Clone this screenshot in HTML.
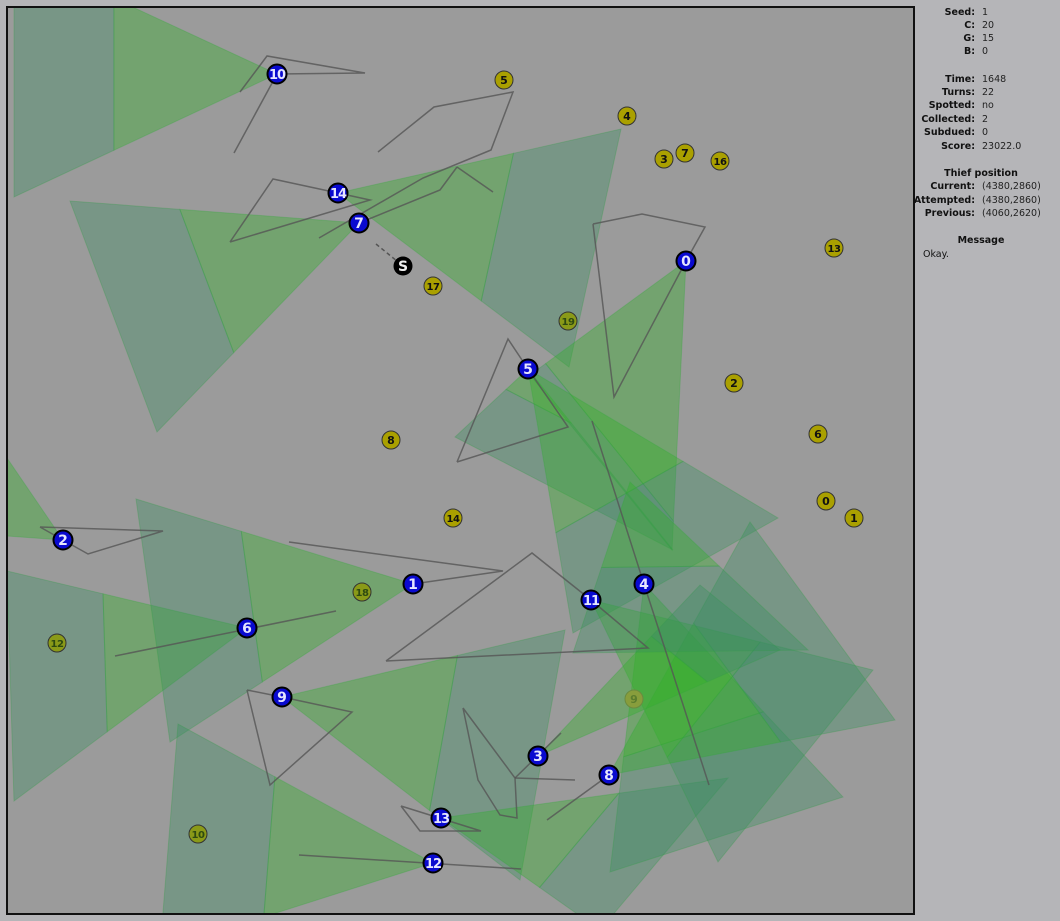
<!DOCTYPE html>
<html><head><meta charset="utf-8"><style>
html,body{margin:0;padding:0;width:1060px;height:921px;overflow:hidden;background:#b5b5b8;font-family:"DejaVu Sans","Liberation Sans",sans-serif}
#panel{position:absolute;left:915px;top:0;width:145px;height:921px;font-size:9.5px;color:#111}
.row{position:absolute;left:0;width:145px;height:13px;line-height:13px}
.row b{position:absolute;right:85px;text-align:right;white-space:nowrap}
.row span{position:absolute;left:67px;white-space:nowrap;color:#222}
.hd{position:absolute;left:0;width:132px;text-align:center;font-weight:bold;line-height:13px}
</style></head><body>
<svg id="map" width="915" height="921" style="position:absolute;left:0;top:0">
<defs><clipPath id="clip"><rect x="7" y="7" width="907" height="907"/></clipPath></defs>
<rect x="7" y="7" width="907" height="907" fill="#9b9b9b"/>
<g id="cones" clip-path="url(#clip)"></g>
<g id="paths" clip-path="url(#clip)"></g>
<g id="coins"></g>
<g id="guards"></g>
<g id="thief"></g>
<rect x="7" y="7" width="907" height="907" fill="none" stroke="#111" stroke-width="2"/>
</svg>
<div id="panel">
<div class="row" style="top:6px"><b>Seed:</b><span>1</span></div>
<div class="row" style="top:19px"><b>C:</b><span>20</span></div>
<div class="row" style="top:32px"><b>G:</b><span>15</span></div>
<div class="row" style="top:45px"><b>B:</b><span>0</span></div>
<div class="row" style="top:73px"><b>Time:</b><span>1648</span></div>
<div class="row" style="top:86px"><b>Turns:</b><span>22</span></div>
<div class="row" style="top:99px"><b>Spotted:</b><span>no</span></div>
<div class="row" style="top:113px"><b>Collected:</b><span>2</span></div>
<div class="row" style="top:126px"><b>Subdued:</b><span>0</span></div>
<div class="row" style="top:140px"><b>Score:</b><span>23022.0</span></div>
<div class="hd" style="top:167px">Thief position</div>
<div class="row" style="top:180px"><b>Current:</b><span>(4380,2860)</span></div>
<div class="row" style="top:194px"><b>Attempted:</b><span>(4380,2860)</span></div>
<div class="row" style="top:207px"><b>Previous:</b><span>(4060,2620)</span></div>
<div class="hd" style="top:234px">Message</div>
<div style="position:absolute;left:8px;top:248px;line-height:13px">Okay.</div>
</div>
<script>
const guardIds=[10,14,7,0,5,2,1,6,11,4,9,3,8,13,12];
const guardX=[277,338,359,686,528,63,413,247,591,644,282,538,609,441,433];
const guardY=[74,193,223,261,369,540,584,628,600,584,697,756,775,818,863];
const coinIds=[5,4,3,7,16,13,17,19,2,6,8,0,1,14,18,12,9,10];
const coinX=[504,627,664,685,720,834,433,568,734,818,391,826,854,453,362,57,634,198];
const coinY=[80,116,159,153,161,248,286,321,383,434,440,501,518,518,592,643,699,834];
const coinFaded=[0,0,0,0,0,0,0,1,0,0,0,0,0,0,1,1,2,1];
const thiefX=403, thiefY=266;
// cones: apex, far point A, far point B
const coneAx=[277,359,338,686,528,528,247,413,282,433,441,644,591,609,538,63,630];
const coneAy=[74,223,193,261,369,369,628,584,697,863,818,584,600,775,756,540,482];
const coneP1x=[14,70,621,530,455,573,7,136,565,178,728,843,873,750,700,7,808];
const coneP1y=[-48,201,129,375,437,633,571,499,630,724,778,797,670,522,585,458,650];
const coneP2x=[14,157,569,672,673,778,14,170,520,160,600,610,718,895,780,7,573];
const coneP2y=[197,432,367,550,550,518,801,742,880,950,930,872,862,720,650,536,653];
const coneSplit=[0.62,0.62,0.62,0.9,0.3,0.62,0.6,0.62,0.62,0.62,0.62,0.6,0.6,0.6,0.7,1,0.5];
const paths=[
 [[234,153],[277,74]],[[240,92],[267,56],[365,73],[277,74]],
 [[378,152],[434,107],[513,92],[491,150],[423,178],[319,238]],[[457,167],[493,192]],[[457,167],[440,190],[359,223]],
 [[230,242],[273,179],[338,193],[370,200],[230,242]],
 [[593,224],[642,214],[705,227],[686,261],[614,397],[593,224]],
 [[457,462],[508,339],[528,369],[568,427],[457,462]],
 [[40,527],[163,531],[88,554],[63,540],[40,527]],
 [[289,542],[503,571],[413,584]],
 [[386,661],[532,553],[591,600],[648,648],[386,661]],
 [[592,421],[644,584],[709,785]],
 [[115,656],[336,611]],
 [[247,690],[270,785],[352,712],[282,697],[247,690]],
 [[463,708],[515,778],[517,818],[500,815],[478,780],[463,708]],[[515,778],[575,780]],[[515,778],[561,733]],
 [[547,820],[609,775]],
 [[401,806],[481,831],[420,831],[401,806]],
 [[299,855],[521,869]]
];
const NS='http://www.w3.org/2000/svg';
function mk(tag,attrs,parent){const e=document.createElementNS(NS,tag);for(const k in attrs)e.setAttribute(k,attrs[k]);parent.appendChild(e);return e;}
const cg=document.getElementById('cones');
for(let i=0;i<coneAx.length;i++){
  const ax=coneAx[i],ay=coneAy[i],f=coneSplit[i];
  const m1x=ax+f*(coneP1x[i]-ax),m1y=ay+f*(coneP1y[i]-ay),m2x=ax+f*(coneP2x[i]-ax),m2y=ay+f*(coneP2y[i]-ay);
  const near=mk('polygon',{points:`${ax},${ay} ${m1x},${m1y} ${m2x},${m2y}`,fill:'rgba(50,175,40,0.38)',stroke:'rgba(50,170,60,0.3)'},cg);
  
  
  if(f<1){
    const far=mk('polygon',{points:`${m1x},${m1y} ${coneP1x[i]},${coneP1y[i]} ${coneP2x[i]},${coneP2y[i]} ${m2x},${m2y}`,fill:'rgba(55,140,95,0.35)',stroke:'rgba(50,160,70,0.3)'},cg);
    
    
  }
}
const pg=document.getElementById('paths');
paths.forEach(p=>{
  const l=mk('polyline',{points:p.map(q=>q.join(',')).join(' '),fill:'none',stroke:'#555','stroke-width':1.5,'stroke-opacity':0.8},pg);
  
  
});
const dl=mk('line',{x1:376,y1:244,x2:thiefX,y2:thiefY,stroke:'#555','stroke-width':1.5,'stroke-dasharray':'4,3'},pg);


const og=document.getElementById('coins');
for(let i=0;i<coinIds.length;i++){
  const g=mk('g',{},og);
  
  
  const fd=coinFaded[i];
  const fill=fd==2?'#889d3c':fd==1?'#8a9a18':'#aaa000';
  mk('circle',{cx:coinX[i],cy:coinY[i],r:9,fill:fill,stroke:fd==2?'#6a8a40':'#333','stroke-width':1},g);
  const t=mk('text',{x:coinX[i],y:coinY[i]+4,'text-anchor':'middle','font-size':coinIds[i]>9?10:11,'font-weight':'bold','font-family':'DejaVu Sans, Liberation Sans, sans-serif',fill:fd==2?'#5b7d2e':fd==1?'#2e4a10':'#111','letter-spacing':coinIds[i]>9?'-0.5':'0'},g);
  t.textContent=coinIds[i];
}
const gg=document.getElementById('guards');
for(let i=0;i<guardIds.length;i++){
  const g=mk('g',{},gg);
  
  
  mk('circle',{cx:guardX[i],cy:guardY[i],r:9.5,fill:'#0a0ad0',stroke:'#000','stroke-width':2},g);
  const t=mk('text',{x:guardX[i],y:guardY[i]+5,'text-anchor':'middle','font-size':guardIds[i]>9?13:14,'font-weight':'bold','font-family':'DejaVu Sans, Liberation Sans, sans-serif',fill:'#e6e6ff','letter-spacing':guardIds[i]>9?'-1':'0'},g);
  t.textContent=guardIds[i];
}
const tg=document.getElementById('thief');
const th=mk('g',{},tg);


mk('circle',{cx:thiefX,cy:thiefY,r:9.5,fill:'#000'},th);
const tt=mk('text',{x:thiefX,y:thiefY+5,'text-anchor':'middle','font-size':14,'font-weight':'bold','font-family':'DejaVu Sans, sans-serif',fill:'#eee'},th);
tt.textContent='S';
</script>
</body></html>
